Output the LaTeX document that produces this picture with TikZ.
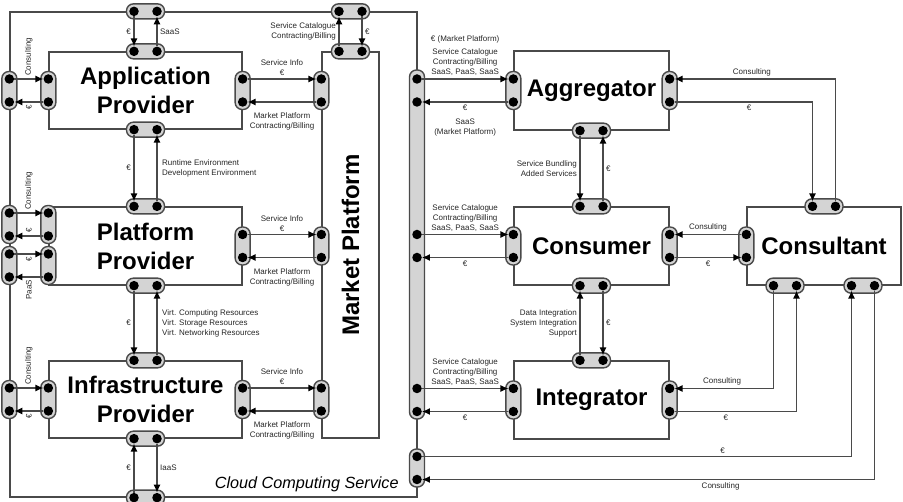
\documentclass[tikz,border=0pt]{standalone}
\usepackage{fontspec}
\setmainfont{Liberation Sans}
\usetikzlibrary{arrows.meta,positioning}

\definecolor{edge}{HTML}{4A4A4A}
\definecolor{capfill}{HTML}{D4D4D4}

\tikzset{
  frame/.style={draw=edge, line width=1.3pt},
  box/.style={frame, align=center, font=\fontsize{24}{29}\selectfont\bfseries},
  big/.style={font=\fontsize{24}{29}\selectfont\bfseries},
  conh/.style={draw=edge, line width=1.4pt, fill=capfill, rounded corners=7pt,
    minimum width=38pt, minimum height=15pt, inner sep=0pt},
  conv/.style={draw=edge, line width=1.4pt, fill=capfill, rounded corners=7pt,
    minimum width=15pt, minimum height=38pt, inner sep=0pt},
  dot/.style={circle, fill=black, minimum size=9.5pt, inner sep=0pt},
  arr/.style={draw=edge, line width=1.3pt, -{Latex[length=8pt, width=7pt, color=black]}},
  lbl/.style={font=\fontsize{8}{10}\selectfont, text=black!85, inner sep=2.5pt}
}

% connector with two dots
\newcommand{\conH}[2]{%
  \node[conh] (#1) at (#2) {};
  \node[dot] (#1-1) at ([xshift=-11.5pt]#1.center) {};
  \node[dot] (#1-2) at ([xshift=11.5pt]#1.center) {};}
\newcommand{\conV}[2]{%
  \node[conv] (#1) at (#2) {};
  \node[dot] (#1-1) at ([yshift=11.5pt]#1.center) {};
  \node[dot] (#1-2) at ([yshift=-11.5pt]#1.center) {};}

\begin{document}
\begin{tikzpicture}[x=1pt, y=-1pt]
  \useasboundingbox (0,0) rectangle (903,502);

  % boxes
  \node[frame, minimum width=407pt, minimum height=485pt] (ccs) at (213.5,254.5) {};
  \node[box, minimum width=193pt, minimum height=77pt] (app) at (145.5,90.5) {Application\\Provider};
  \node[box, minimum width=193pt, minimum height=78pt] (plat) at (145.5,246) {Platform\\Provider};
  \node[box, minimum width=193pt, minimum height=77pt] (infra) at (145.5,399.5) {Infrastructure\\Provider};
  \node[frame, minimum width=57pt, minimum height=386pt] (mp) at (350.5,245) {};
  \node[big, rotate=90] (mptxt) at (mp.center) {Market Platform};
  \node[box, minimum width=155pt, minimum height=79pt] (agg) at (591.5,90.5) {Aggregator};
  \node[box, minimum width=155pt, minimum height=78pt] (cons) at (591.5,246) {Consumer};
  \node[box, minimum width=155pt, minimum height=78pt] (integ) at (591.5,400) {Integrator};
  \node[box, minimum width=154pt, minimum height=78pt] (cslt) at (824,246) {Consultant};
  \node[anchor=south east, font=\fontsize{16.2}{19}\selectfont\itshape] (ccstxt)
    at ([xshift=-15.5pt,yshift=2pt]ccs.south east) {Cloud Computing Service};

  % connectors, left part
  \conH{oAppT}{app.north |- ccs.north}
  \conH{appT}{app.north}
  \conH{appB}{app.south}
  \conV{appL}{app.west}
  \conV{oAppL}{ccs.west |- app.west}
  \conV{appR}{app.east}
  \conV{mpLa}{mp.west |- app.east}
  \conH{platT}{plat.north}
  \conH{platB}{plat.south}
  \conV{platLa}{[yshift=21.5pt]plat.west}
  \conV{platLb}{[yshift=-19.5pt]plat.west}
  \conV{oPlatLa}{ccs.west |- platLa}
  \conV{oPlatLb}{ccs.west |- platLb}
  \conV{platR}{plat.east}
  \conV{mpLb}{mp.west |- plat.east}
  \conH{infraT}{infra.north}
  \conH{infraB}{infra.south}
  \conV{infraL}{infra.west}
  \conV{oInfraL}{ccs.west |- infra.west}
  \conV{infraR}{infra.east}
  \conV{mpLc}{mp.west |- infra.east}
  \conH{oInfraB}{infra.south |- ccs.south}
  \conH{mpT}{mp.north}
  \conH{oMpT}{mp.north |- ccs.north}

  % connectors, right part
  \node[conv, minimum height=349pt] (strip) at (417,244.5) {};
  \conV{sm}{417,468}
  \conV{aggL}{agg.west}
  \conV{aggR}{agg.east}
  \conH{aggB}{agg.south}
  \conH{consT}{cons.north}
  \conH{consB}{cons.south}
  \conV{consL}{cons.west}
  \conV{consR}{cons.east}
  \conH{integT}{integ.north}
  \conV{integL}{integ.west}
  \conV{integR}{integ.east}
  \conH{csltT}{cslt.north}
  \conV{csltL}{cslt.west}
  \conH{csltBa}{[xshift=-39pt]cslt.south}
  \conH{csltBb}{[xshift=39pt]cslt.south}
  \node[dot] (s1) at (strip |- aggL-1) {};
  \node[dot] (s2) at (strip |- aggL-2) {};
  \node[dot] (s3) at (strip |- consL-1) {};
  \node[dot] (s4) at (strip |- consL-2) {};
  \node[dot] (s5) at (strip |- integL-1) {};
  \node[dot] (s6) at (strip |- integL-2) {};

  % application provider
  \draw[arr] (oAppT-1) -- node[lbl, left] {€} (appT-1);
  \draw[arr] (appT-2) -- node[lbl, right] {SaaS} (oAppT-2);
  \draw[arr] (oAppL-1) -- node[lbl, rotate=90, anchor=west] {Consulting} (appL-1);
  \draw[arr] (appL-2) -- node[lbl, rotate=90, anchor=east] {€} (oAppL-2);
  \draw[arr] (appR-1) -- node[lbl, above, align=center] {Service Info\\€} (mpLa-1);
  \draw[arr] (mpLa-2) -- node[lbl, below=8pt, align=center] {Market Platform\\Contracting/Billing} (appR-2);
  \draw[arr] (appB-1) -- node[lbl, left] {€} (platT-1);
  \draw[arr] (platT-2) -- node[lbl, right=2pt, align=left] {Runtime Environment\\Development Environment} (appB-2);

  % platform provider
  \draw[arr] (oPlatLa-1) -- node[lbl, rotate=90, anchor=west] {Consulting} (platLa-1);
  \draw[arr] (platLa-2) -- node[lbl, rotate=90, anchor=west] {€} (oPlatLa-2);
  \draw[arr] (oPlatLb-1) -- node[lbl, rotate=90, anchor=east] {€} (platLb-1);
  \draw[arr] (platLb-2) -- node[lbl, rotate=90, anchor=east] {PaaS} (oPlatLb-2);
  \draw[arr] (platR-1) -- node[lbl, above, align=center] {Service Info\\€} (mpLb-1);
  \draw[arr] (mpLb-2) -- node[lbl, below=8pt, align=center] {Market Platform\\Contracting/Billing} (platR-2);
  \draw[arr] (platB-1) -- node[lbl, left] {€} (infraT-1);
  \draw[arr] (infraT-2) -- node[lbl, right=2pt, align=left] {Virt. Computing Resources\\Virt. Storage Resources\\Virt. Networking Resources} (platB-2);

  % infrastructure provider
  \draw[arr] (oInfraL-1) -- node[lbl, rotate=90, anchor=west] {Consulting} (infraL-1);
  \draw[arr] (infraL-2) -- node[lbl, rotate=90, anchor=east] {€} (oInfraL-2);
  \draw[arr] (infraR-1) -- node[lbl, above, align=center] {Service Info\\€} (mpLc-1);
  \draw[arr] (mpLc-2) -- node[lbl, below=8pt, align=center] {Market Platform\\Contracting/Billing} (infraR-2);
  \draw[arr] (oInfraB-1) -- node[lbl, left] {€} (infraB-1);
  \draw[arr] (infraB-2) -- node[lbl, right] {IaaS} (oInfraB-2);

  % market platform
  \draw[arr] (mpT-1) -- node[lbl, left, align=right] {Service Catalogue\\Contracting/Billing} (oMpT-1);
  \draw[arr] (oMpT-2) -- node[lbl, right] {€} (mpT-2);

  % aggregator, consumer, integrator
  \draw[arr] (s1) -- node[lbl, above, align=center] {€ (Market Platform)\\[3pt]Service Catalogue\\Contracting/Billing\\SaaS, PaaS, SaaS} (aggL-1);
  \draw[arr] (aggL-2) -- node[lbl, below, align=center] {€\\[4pt]SaaS\\(Market Platform)} (s2);
  \draw[arr] (aggB-1) -- node[lbl, left, align=right] {Service Bundling\\Added Services} (consT-1);
  \draw[arr] (consT-2) -- node[lbl, right] {€} (aggB-2);
  \draw[arr] (s3) -- node[lbl, above, align=center] {Service Catalogue\\Contracting/Billing\\SaaS, PaaS, SaaS} (consL-1);
  \draw[arr] (consL-2) -- node[lbl, below] {€} (s4);
  \draw[arr] (integT-1) -- node[lbl, left, align=right] {Data Integration\\System Integration\\Support} (consB-1);
  \draw[arr] (consB-2) -- node[lbl, right] {€} (integT-2);
  \draw[arr] (s5) -- node[lbl, above, align=center] {Service Catalogue\\Contracting/Billing\\SaaS, PaaS, SaaS} (integL-1);
  \draw[arr] (integL-2) -- node[lbl, below] {€} (s6);

  % consultant
  \draw[arr] (csltL-1) -- node[lbl, above] {Consulting} (consR-1);
  \draw[arr] (consR-2) -- node[lbl, below] {€} (csltL-2);
  \draw[arr] (csltT-2) |- node[lbl, above, pos=0.76] {Consulting} (aggR-1);
  \draw[arr] (aggR-2) -| node[lbl, below, pos=0.27] {€} (csltT-1);
  \draw[arr] (csltBa-1) |- node[lbl, above, pos=0.76] {Consulting} (integR-1);
  \draw[arr] (integR-2) -| node[lbl, below, pos=0.21] {€} (csltBa-2);
  \draw[arr] (sm-1) -| node[lbl, above, pos=0.35] {€} (csltBb-1);
  \draw[arr] (csltBb-2) |- node[lbl, below, pos=0.67] {Consulting} (sm-2);
\end{tikzpicture}
\end{document}
